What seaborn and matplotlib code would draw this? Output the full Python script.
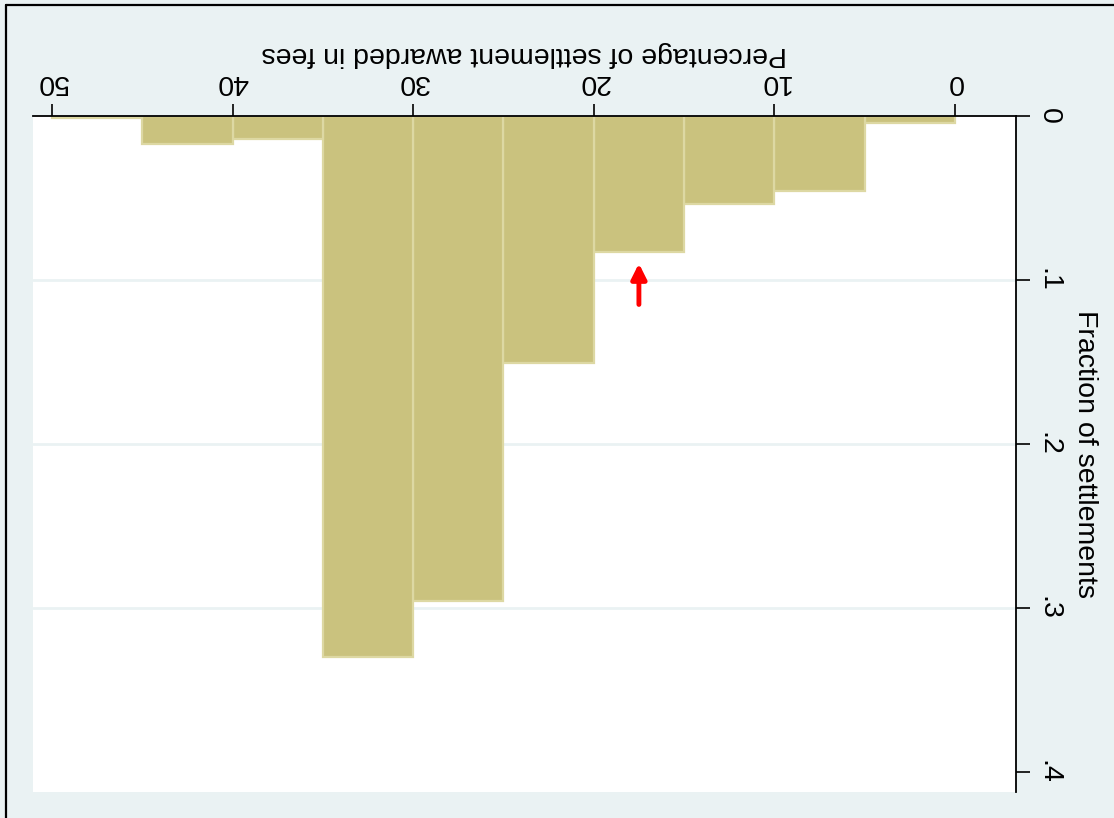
import numpy as np
import pandas as pd
import matplotlib
matplotlib.use("Agg")
import matplotlib.pyplot as plt
from matplotlib.lines import Line2D
import seaborn as sns

# histogram bins (percentage of settlement awarded in fees)
bin_edges = [0, 5, 10, 15, 20, 25, 30, 35, 40, 45, 50]
bin_mids = [2.5, 7.5, 12.5, 17.5, 22.5, 27.5, 32.5, 37.5, 42.5, 47.5]
fractions = [0.004, 0.046, 0.054, 0.083, 0.151, 0.296, 0.330, 0.014, 0.017, 0.0015]

x_ticks = [0, 10, 20, 30, 40, 50]
y_ticks = [0, 0.1, 0.2, 0.3, 0.4]
y_ticklabels = ["0", ".1", ".2", ".3", ".4"]

df = pd.DataFrame({"pct": bin_mids, "frac": fractions})

sns.set_style("white")
plt.rcParams["font.family"] = ["Liberation Sans", "DejaVu Sans"]
plt.rcParams["text.color"] = "black"
plt.rcParams["axes.labelcolor"] = "black"
plt.rcParams["xtick.color"] = "black"
plt.rcParams["ytick.color"] = "black"

bg = "#EAF2F3"
fs = 20.5
fig = plt.figure(figsize=(11.14, 8.18), dpi=100, facecolor=bg)
ax = fig.add_axes([33 / 1114, 1 - 792 / 818, (1016 - 33) / 1114, (792 - 116) / 818])
ax.set_facecolor("white")

# grid lines (inner only, like Stata)
for v in y_ticks[1:-1]:
    ax.axhline(v, color=bg, lw=2, zorder=0)

sns.histplot(data=df, x="pct", weights="frac", bins=bin_edges, stat="count",
             color="#CAC27E", edgecolor="#DDD8A3", linewidth=1.6, alpha=1,
             ax=ax, zorder=2)

# whole chart is shown rotated by 180 degrees
ax.set_xlim(51.05, -3.38)
ax.set_ylim(0.4125, 0)

ax.xaxis.tick_top()
ax.xaxis.set_label_position("top")
ax.yaxis.tick_right()
ax.yaxis.set_label_position("right")
for s in ["left", "bottom"]:
    ax.spines[s].set_visible(False)
for s in ["top", "right"]:
    ax.spines[s].set_visible(True)
    ax.spines[s].set_color("black")
    ax.spines[s].set_linewidth(1.3)

ax.set_xticks(x_ticks)
ax.set_xticklabels([str(t) for t in x_ticks], rotation=180, fontsize=fs)
ax.set_yticks(y_ticks)
ax.set_yticklabels(y_ticklabels, rotation=-90, fontsize=fs, va="center")
ax.tick_params(axis="x", direction="out", length=9, width=1.2, pad=6)
ax.tick_params(axis="y", direction="out", length=10, width=1.2, pad=4)

ax.set_xlabel("Percentage of settlement awarded in fees", fontsize=fs, rotation=180, labelpad=6)
ax.set_ylabel("Fraction of settlements", fontsize=fs, rotation=-90, labelpad=26)
ax.grid(False)

# red arrow pointing at the 15-20 bar
ax.annotate("", xy=(17.5, 0.090), xytext=(17.5, 0.115),
            arrowprops=dict(arrowstyle="-|>,head_width=0.45,head_length=0.9",
                            color="red", lw=3.5, shrinkA=0, shrinkB=0), zorder=5)

# outer frame (left and top edges visible)
fig.add_artist(Line2D([6 / 1114, 6 / 1114], [0, 1 - 5 / 818], color="black", lw=1.6))
fig.add_artist(Line2D([6 / 1114, 1], [1 - 5 / 818, 1 - 5 / 818], color="black", lw=1.6))

fig.savefig("out.png", dpi=100, facecolor=bg)
